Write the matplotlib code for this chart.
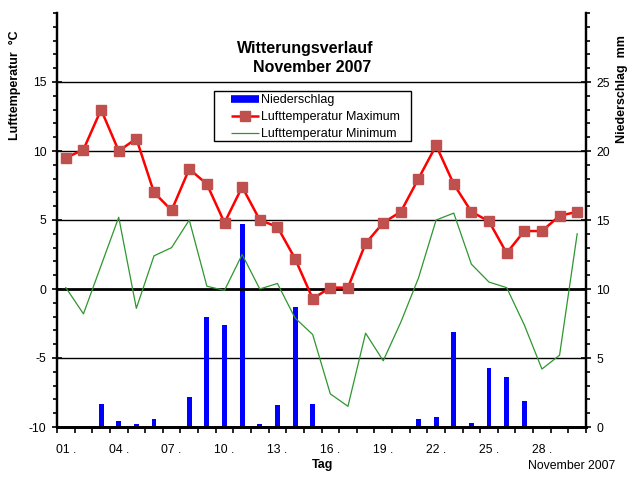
import matplotlib
matplotlib.use("Agg")
import matplotlib.pyplot as plt
from matplotlib.lines import Line2D
from matplotlib.patches import Rectangle
from matplotlib.ticker import MultipleLocator, FixedLocator
import numpy as np

plt.rcParams['font.family'] = ['Liberation Sans', 'DejaVu Sans']

days = list(range(1, 31))
t_max = [9.5, 10.1, 13.0, 10.0, 10.9, 7.0, 5.7, 8.7, 7.6, 4.8,
         7.4, 5.0, 4.5, 2.2, -0.7, 0.1, 0.1, 3.3, 4.8, 5.6,
         8.0, 10.4, 7.6, 5.6, 4.9, 2.6, 4.2, 4.2, 5.3, 5.6]
t_min = [0.1, -1.8, 1.7, 5.2, -1.4, 2.4, 3.0, 5.0, 0.2, -0.1,
         2.5, 0.0, 0.4, -2.1, -3.3, -7.6, -8.5, -3.2, -5.2, -2.4,
         0.8, 5.0, 5.5, 1.8, 0.5, 0.1, -2.6, -5.8, -4.8, 4.0]
precip = [0.0, 0.0, 1.7, 0.4, 0.2, 0.6, 0.1, 2.2, 8.0, 7.4,
          14.7, 0.2, 1.6, 8.7, 1.7, 0.0, 0.0, 0.0, 0.0, 0.0,
          0.6, 0.7, 6.9, 0.3, 4.3, 3.6, 1.9, 0.0, 0.1, 0.0]
temp_ticks = [-10, -5, 0, 5, 10, 15]
rain_ticks = [0, 5, 10, 15, 20, 25]
label_days = [1, 4, 7, 10, 13, 16, 19, 22, 25, 28]

W, H = 641, 478
fig = plt.figure(figsize=(W / 100, H / 100), dpi=100)
L, R, T, B = 57, 586, 13, 427
ax = fig.add_axes([L / W, (H - B) / H, (R - L) / W, (B - T) / H])
ax2 = ax.twinx()
ax.set_zorder(ax2.get_zorder() + 1)
ax.patch.set_visible(False)

GREEN = '#2E962E'

# precipitation bars on right axis
ax2.bar(days, precip, width=0.28, color='#0000FF', zorder=2)
ax2.set_ylim(0, 30)
ax2.yaxis.set_major_locator(FixedLocator(rain_ticks))
ax2.yaxis.set_minor_locator(MultipleLocator(1))
ax2.set_yticklabels([str(v) for v in rain_ticks])
for v in [5, 15, 20, 25]:
    ax2.axhline(v, color='black', lw=1.0, zorder=1)

# temperature lines
ax.plot(days, t_min, color=GREEN, lw=0.9, zorder=3)
ax.plot(days, t_max, color='#FF0000', lw=1.8, marker='s', markersize=7,
        markerfacecolor='#C0504D', markeredgecolor='#C0504D', zorder=4)
ax.axhline(0, color='black', lw=2.0, zorder=2)
ax.set_ylim(-10, 20)
ax.set_xlim(0.5, 30.5)
ax.yaxis.set_major_locator(FixedLocator(temp_ticks))
ax.yaxis.set_minor_locator(MultipleLocator(1))
ax.set_yticklabels([str(v) for v in temp_ticks])

# x-axis: ticks at day boundaries, labels at day centres
ax.xaxis.set_major_locator(FixedLocator(np.arange(0.5, 31, 1)))
ax.set_xticklabels([])
ax.xaxis.set_minor_locator(FixedLocator(label_days))
ax.set_xticklabels(['%02d .' % d for d in label_days], minor=True)
ax.tick_params(axis='x', which='major', direction='out', length=4, width=1.2)
ax.tick_params(axis='x', which='minor', length=0, pad=12, labelsize=8.8)

ax.tick_params(axis='y', which='major', direction='inout', length=7, width=1.2, labelsize=8.8, pad=4)
ax.tick_params(axis='y', which='minor', direction='out', length=3, width=1.2)
ax2.tick_params(axis='y', which='major', direction='inout', length=7, width=1.2, labelsize=8.8, pad=4)
ax2.tick_params(axis='y', which='minor', direction='out', length=3, width=1.2)

for a in (ax, ax2):
    a.spines['top'].set_visible(False)
    a.spines['left'].set_linewidth(1.6)
    a.spines['right'].set_linewidth(1.6)
    a.spines['bottom'].set_linewidth(2.0)

# legend (frame drawn as separate box to get Excel-like margins)
def fx(px):
    return (px - L) / (R - L)

def fy(py):
    return (B - py) / (B - T)

frame = Rectangle((fx(214), fy(141)), fx(411) - fx(214), fy(91) - fy(141),
                  transform=ax.transAxes, facecolor='white', edgecolor='black',
                  lw=1.0, zorder=9)
ax.add_patch(frame)
handles = [Line2D([0], [0], color='#0000FF', lw=5.5, solid_capstyle='butt'),
           Line2D([0], [0], color='#FF0000', lw=1.8, marker='s', markersize=7,
                  markerfacecolor='#C0504D', markeredgecolor='#C0504D',
                  solid_capstyle='butt'),
           Line2D([0], [0], color=GREEN, lw=0.9, solid_capstyle='butt')]
labels = ['Niederschlag', 'Lufttemperatur Maximum', 'Lufttemperatur Minimum']
leg = ax.legend(handles, labels, loc='upper left',
                bbox_to_anchor=(fx(231), fy(94)),
                borderaxespad=0, borderpad=0, fontsize=9, frameon=False,
                handlelength=2.2, handletextpad=0.2, labelspacing=0.42)
leg.set_zorder(10)

# titles and labels
fig.text(305 / W, 1 - 48 / H, 'Witterungsverlauf', ha='center', va='center',
         fontsize=11.5, fontweight='bold')
fig.text(312 / W, 1 - 68 / H, 'November 2007', ha='center', va='center',
         fontsize=11.5, fontweight='bold')
fig.text(15 / W, 1 - 85 / H, 'Lufttemperatur  °C', rotation=90, ha='center',
         va='center', fontsize=9, fontweight='bold')
fig.text(622 / W, 1 - 89 / H, 'Niederschlag  mm', rotation=90, ha='center',
         va='center', fontsize=9, fontweight='bold')
fig.text(323 / W, 1 - 465 / H, 'Tag', ha='center', va='center',
         fontsize=9, fontweight='bold')
fig.text(572 / W, 1 - 466 / H, 'November 2007', ha='center', va='center',
         fontsize=8.8)

fig.savefig('out.png', dpi=100)
